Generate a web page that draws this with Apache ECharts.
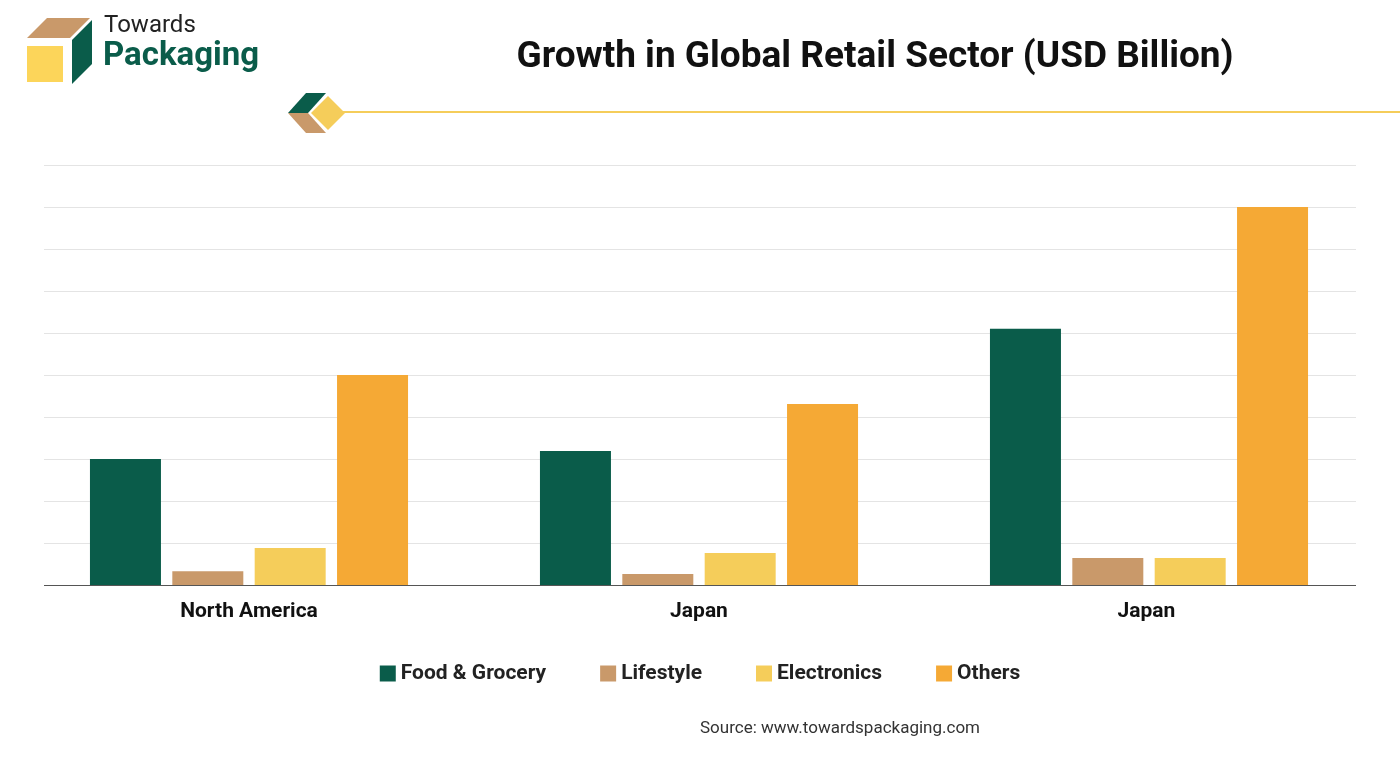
<!DOCTYPE html>
<html>
<head>
<meta charset="utf-8">
<script src="https://cdn.jsdelivr.net/npm/echarts@6/dist/echarts.min.js"></script>
<style>html,body{margin:0;padding:0;background:#fff}#chart{width:1400px;height:779px}</style>
</head>
<body>
<div id="chart"></div>
<script>
const categories = ['North America', 'Japan', 'Japan '];
const foodGrocery = [3.0, 3.19, 6.1];
const lifestyle = [0.33, 0.26, 0.64];
const electronics = [0.88, 0.76, 0.64];
const others = [5.0, 4.31, 9.0];

const chart = echarts.init(document.getElementById('chart'));
const font = 'Roboto, "Noto Sans", sans-serif';

function bar(name, data, color) {
    return { name, type: 'bar', data, xAxisIndex: 1, yAxisIndex: 1, barWidth: 71, barGap: '16%', itemStyle: { color } };
}

chart.setOption({
    animation: false,
    title: {
        text: 'Growth in Global Retail Sector (USD Billion)',
        left: 870, top: 34, textAlign: 'center',
        textStyle: { fontFamily: font, fontSize: 37, fontWeight: 'bold', color: '#111' }
    },
    legend: {
        bottom: 90, left: 'center', itemWidth: 16, itemHeight: 16, itemGap: 54, icon: 'rect',
        textStyle: { fontFamily: font, fontSize: 21, fontWeight: 'bold', color: '#222' }
    },
    graphic: [
        { type: 'line', shape: { x1: 335, y1: 112, x2: 1400, y2: 112 }, style: { stroke: '#f5cd5a', lineWidth: 2 } },
        { type: 'polygon', shape: { points: [[288, 113], [306, 93], [326, 93], [308, 113]] }, style: { fill: '#0a5c4a' } },
        { type: 'polygon', shape: { points: [[288, 113], [308, 113], [326, 133], [306, 133]] }, style: { fill: '#c9996a' } },
        { type: 'polygon', shape: { points: [[311, 113], [328, 96], [345, 113], [328, 130]] }, style: { fill: '#f5cd5a' } },
        { type: 'polygon', shape: { points: [[27, 38], [47, 18], [90, 18], [70, 38]] }, style: { fill: '#c9996a' } },
        { type: 'rect', shape: { x: 27, y: 46, width: 36, height: 36 }, style: { fill: '#fcd55a' } },
        { type: 'polygon', shape: { points: [[72, 40], [92, 20], [92, 64], [72, 84]] }, style: { fill: '#0a5c4a' } },
        { type: 'text', left: 104, top: 14, style: { text: 'Towards', fontFamily: font, fontSize: 24, fill: '#222' } },
        { type: 'text', left: 103, top: 40, style: { text: 'Packaging', fontFamily: font, fontSize: 33, fontWeight: 'bold', fill: '#0a5c4a' } },
        { type: 'text', left: 700, top: 720, style: { text: 'Source: www.towardspackaging.com', align: 'center', fontFamily: font, fontSize: 17, fill: '#333' } }
    ],
    grid: [
        { left: 44, right: 44, top: 165, bottom: 194 },
        { left: 24, right: 26, top: 165, bottom: 194 }
    ],
    xAxis: [
        { type: 'category', gridIndex: 0, data: categories, show: false },
        {
            type: 'category', gridIndex: 1, data: categories,
            axisLine: { show: false }, axisTick: { show: false },
            axisLabel: { margin: 16, fontFamily: font, fontSize: 21, fontWeight: 'bold', color: '#111' }
        }
    ],
    yAxis: [
        {
            type: 'value', gridIndex: 0, min: 0, max: 10, interval: 1,
            axisLabel: { show: false }, axisLine: { show: false }, axisTick: { show: false },
            splitLine: { lineStyle: { color: '#e4e4e4' } }
        },
        { type: 'value', gridIndex: 1, min: 0, max: 10, interval: 1, show: false, splitLine: { show: false } }
    ],
    series: [
        bar('Food & Grocery', foodGrocery, '#0a5c4a'),
        bar('Lifestyle', lifestyle, '#c9996a'),
        bar('Electronics', electronics, '#f5cd5a'),
        bar('Others', others, '#f5a935'),
        {
            type: 'line', xAxisIndex: 0, yAxisIndex: 0, data: [], silent: true,
            markLine: { symbol: 'none', silent: true, label: { show: false }, lineStyle: { color: '#555', type: 'solid', width: 1 }, data: [{ yAxis: 0 }] }
        }
    ]
});
</script>
</body>
</html>
